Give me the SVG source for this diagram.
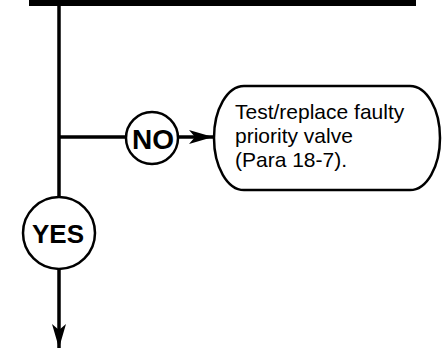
<svg xmlns="http://www.w3.org/2000/svg" width="442" height="353" viewBox="0 0 442 353">
  <style>
    .wire { fill: none; stroke: #000; stroke-width: 3.5; }
    .ring { fill: #fff; stroke: #000; stroke-width: 2.5; }
    .box { fill: #fff; stroke: #000; stroke-width: 2.5; }
    .tag { font-family: "Liberation Sans", Arial, sans-serif; font-weight: bold; text-anchor: middle; fill: #000; }
    .note { font-family: "Liberation Sans", Arial, sans-serif; font-size: 21px; fill: #000; }
  </style>
  <defs>
    <marker id="head" viewBox="0 0 24 14" refX="24" refY="7" markerWidth="24" markerHeight="14" markerUnits="userSpaceOnUse" orient="auto">
      <path d="M0,0 L24,7 L0,14 L6,7 Z" fill="#000"/>
    </marker>
  </defs>

  <!-- header bar -->
  <rect id="header" x="29" y="0" width="387" height="6" fill="#000"/>

  <g id="connectors">
    <line class="wire" x1="59" y1="6" x2="59" y2="197"/>
    <line class="wire" x1="59" y1="137" x2="126" y2="137"/>
    <line class="wire" x1="178" y1="137" x2="213" y2="137" marker-end="url(#head)"/>
    <line class="wire" x1="59" y1="270" x2="59" y2="348" marker-end="url(#head)"/>
  </g>

  <g id="no">
    <circle class="ring" cx="152" cy="138" r="26"/>
    <text class="tag" x="153" y="149" font-size="28">NO</text>
  </g>

  <g id="yes">
    <circle class="ring" cx="59" cy="233" r="36"/>
    <text class="tag" x="58" y="243" font-size="26">YES</text>
  </g>

  <g id="action">
    <rect class="box" x="214" y="86" width="226" height="104" rx="30" ry="52"/>
    <text class="note" x="235" y="119">Test/replace faulty</text>
    <text class="note" x="235" y="143">priority valve</text>
    <text class="note" x="235" y="167">(Para 18-7).</text>
  </g>
</svg>
